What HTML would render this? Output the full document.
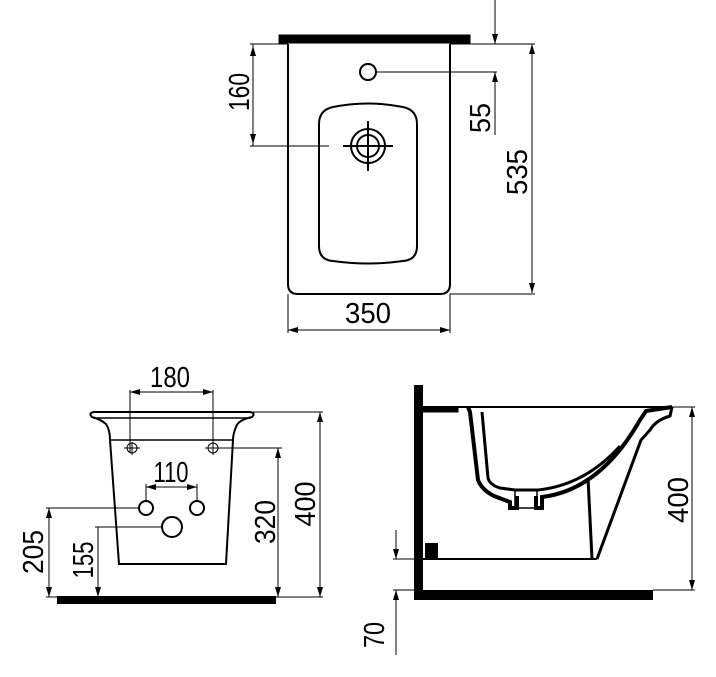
<!DOCTYPE html>
<html><head><style>html,body{margin:0;padding:0;background:#fff}svg{display:block}text{font-family:"Liberation Sans",sans-serif;font-size:29px;fill:#000}</style></head><body>
<svg width="716" height="677" viewBox="0 0 716 677" xmlns="http://www.w3.org/2000/svg">
<defs><marker id="a" viewBox="0 0 10 6" refX="10" refY="3" markerWidth="10" markerHeight="6" orient="auto-start-reverse" markerUnits="userSpaceOnUse"><path d="M0,0 L10,3 L0,6 z" fill="#000"/></marker></defs>
<g fill="none" stroke="#000" stroke-width="1">
<!-- TOP VIEW -->
<rect x="279" y="35" width="191" height="8" fill="#000"/>
<path d="M288,44 L288,284 Q288,294 298,294 L440,294 Q450,294 450,284 L450,44" stroke-width="2"/>
<path d="M333,107 Q368,100 403,107 Q417,110 417,124 L417,246 Q417,260 403,261 Q368,266 333,261 Q319,260 319,246 L319,124 Q319,110 333,107 Z" stroke-width="2"/>
<circle cx="368" cy="72" r="8" stroke-width="2"/>
<circle cx="368" cy="146" r="17" stroke-width="2"/>
<circle cx="368" cy="146" r="11" stroke-width="2"/>
<path d="M343,146 H393 M368,121 V171" stroke-width="2"/>
<path d="M250,44 H288 M250,146 H329 M253,44 V146" />
<path d="M253,46 V144" marker-start="url(#a)" marker-end="url(#a)"/>
<path d="M376,72 H497 M450,44 H535 M450,294 H535"/>
<path d="M495,0 V44" marker-end="url(#a)"/>
<path d="M495,72 V135" marker-start="url(#a)"/>
<path d="M532,44 V293" marker-start="url(#a)" marker-end="url(#a)"/>
<path d="M288,294 V333 M450,294 V333"/>
<path d="M288,330 H450" marker-start="url(#a)" marker-end="url(#a)"/>
<!-- FRONT VIEW -->
<path d="M94,412 H250 Q256,413 252,417 Q238,420 236,427 Q233,434 233,440 L226,564 H119 L110,440 Q110,430 106,424 Q100,419 92,417 Q88,413 94,412 Z" stroke-width="2"/>
<path d="M110,440 H233 M93,418 H251" stroke-width="1.5"/>
<circle cx="132" cy="448" r="5"/><path d="M124,448 H140 M132,442 V455"/>
<circle cx="213" cy="448" r="5"/><path d="M205,448 H221 M213,442 V455"/>
<circle cx="146" cy="508" r="7" stroke-width="2"/>
<circle cx="197" cy="508" r="7" stroke-width="2"/>
<circle cx="172" cy="527" r="10" stroke-width="2"/>
<path d="M130,390 V452 M213,390 V452"/>
<path d="M130,392 H213" marker-start="url(#a)" marker-end="url(#a)"/>
<path d="M146,484 V500 M197,484 V500"/>
<path d="M146,487 H197" marker-start="url(#a)" marker-end="url(#a)"/>
<path d="M46,508 H139 M95,527 H162 M218,448 H282 M253,412 H323 M46,597 H323"/>
<path d="M49,508 V597" marker-start="url(#a)" marker-end="url(#a)"/>
<path d="M98,527 V597" marker-end="url(#a)"/>
<path d="M278,448 V597" marker-start="url(#a)" marker-end="url(#a)"/>
<path d="M320,412 V597" marker-start="url(#a)" marker-end="url(#a)"/>
<rect x="57" y="596" width="219" height="8" fill="#000" stroke="none"/>
<!-- SIDE VIEW -->
<rect x="414" y="385" width="9" height="215" fill="#000" stroke="none"/>
<rect x="414" y="590" width="239" height="10" fill="#000" stroke="none"/>
<rect x="425" y="543" width="13" height="16" fill="#000" stroke="none"/>
<path d="M423,407 H672 M423,559 H597" stroke-width="2"/>
<path d="M423,407 H458 V412 H423 Z" fill="#000" stroke-width="1"/>
<path d="M468,407 L470,412 L478,480 Q482,490 494,496 L510,502 V508 L517,508 V496 M536,496 V508 L542,508 V497 Q600,490 640,420 L646,411 L672,407" stroke-width="4"/>
<path d="M482,412 L488,478 Q490,485 500,488 L515,490 H538 Q585,485 620,446" stroke-width="3"/>
<path d="M515,490 V508 H537 V490" stroke-width="1.5"/>
<path d="M672,407 L670,416 Q656,420 650,430 L641,440 L597,559 M588,478 L592,559" stroke-width="3"/>
<path d="M672,407 H695 M653,590 H695 M393,559 H423 M393,590 H414"/>
<path d="M692,407 V590" marker-start="url(#a)" marker-end="url(#a)"/>
<path d="M396,530 V559" marker-end="url(#a)"/>
<path d="M396,655 V590" marker-end="url(#a)"/>
</g>
<text x="368" y="323" text-anchor="middle" textLength="46" lengthAdjust="spacingAndGlyphs">350</text>
<text transform="translate(249,92) rotate(-90)" text-anchor="middle" textLength="38" lengthAdjust="spacingAndGlyphs">160</text>
<text transform="translate(490,118) rotate(-90)" text-anchor="middle" textLength="30" lengthAdjust="spacingAndGlyphs">55</text>
<text transform="translate(527,172) rotate(-90)" text-anchor="middle" textLength="46" lengthAdjust="spacingAndGlyphs">535</text>
<text x="170" y="387" text-anchor="middle" textLength="40" lengthAdjust="spacingAndGlyphs">180</text>
<text x="171" y="482" text-anchor="middle" textLength="35" lengthAdjust="spacingAndGlyphs">110</text>
<text transform="translate(43,552) rotate(-90)" text-anchor="middle" textLength="44" lengthAdjust="spacingAndGlyphs">205</text>
<text transform="translate(93,560) rotate(-90)" text-anchor="middle" textLength="37" lengthAdjust="spacingAndGlyphs">155</text>
<text transform="translate(275,522) rotate(-90)" text-anchor="middle" textLength="44" lengthAdjust="spacingAndGlyphs">320</text>
<text transform="translate(315,504) rotate(-90)" text-anchor="middle" textLength="45" lengthAdjust="spacingAndGlyphs">400</text>
<text transform="translate(688,500) rotate(-90)" text-anchor="middle" textLength="46" lengthAdjust="spacingAndGlyphs">400</text>
<text transform="translate(384,635) rotate(-90)" text-anchor="middle" textLength="26" lengthAdjust="spacingAndGlyphs">70</text>
</svg>
</body></html>
